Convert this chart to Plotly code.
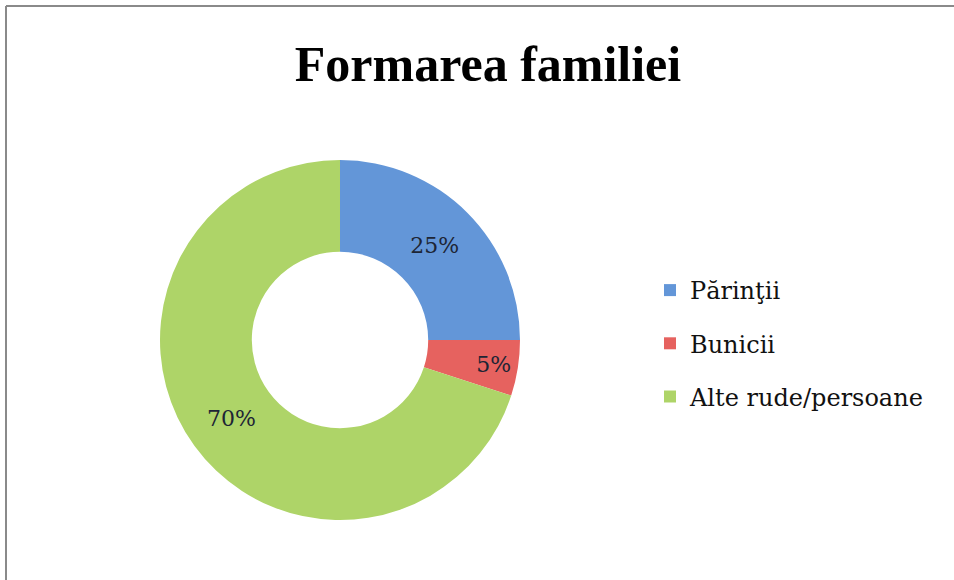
import plotly.graph_objects as go

# Date
categorii = ["Părinţii", "Bunicii", "Alte rude/persoane"]
procente = [25, 5, 70]
culori = ["#6396D8", "#E6625F", "#AED468"]

W, H = 954, 580
SERIF = "DejaVu Serif, Liberation Serif, serif"

fig = go.Figure(
    go.Pie(
        labels=categorii,
        values=procente,
        hole=0.49,
        sort=False,
        direction="clockwise",
        rotation=0,
        marker=dict(colors=culori, line=dict(width=0)),
        texttemplate="%{value}%",
        textposition="inside",
        insidetextorientation="horizontal",
        textfont=dict(family=SERIF, size=22, color="#1d2535"),
        domain=dict(x=[160 / W, 520 / W], y=[1 - 520 / H, 1 - 160 / H]),
        showlegend=False,
    )
)

# legenda separata, ca sa avem spatiu intre intrari
for nume, culoare in zip(categorii, culori):
    fig.add_trace(
        go.Scatter(
            x=[None],
            y=[None],
            mode="markers",
            name=nume,
            legendgroup=nume,
            marker=dict(symbol="square", size=9, color=culoare),
            hoverinfo="skip",
        )
    )

fig.update_layout(
    width=W,
    height=H,
    paper_bgcolor="white",
    plot_bgcolor="white",
    margin=dict(l=0, r=0, t=0, b=0),
    xaxis=dict(visible=False),
    yaxis=dict(visible=False),
    title=dict(
        text="<b>Formarea familiei</b>",
        x=488 / W,
        xanchor="center",
        y=1 - 63 / H,
        yanchor="middle",
        font=dict(family="Liberation Serif, serif", size=50, color="#000000"),
    ),
    legend=dict(
        x=650 / W,
        y=1 - 268 / H,
        xanchor="left",
        yanchor="top",
        font=dict(family=SERIF, size=24, color="#111111"),
        itemsizing="constant",
        tracegroupgap=19,
        itemwidth=30,
    ),
    shapes=[
        dict(type="line", xref="paper", yref="paper", x0=6 / W, x1=1, y0=1 - 6 / H, y1=1 - 6 / H,
             line=dict(color="#8a8a8a", width=2)),
        dict(type="line", xref="paper", yref="paper", x0=6 / W, x1=6 / W, y0=0, y1=1 - 6 / H,
             line=dict(color="#8a8a8a", width=2)),
    ],
)

fig.write_html(
    "out.html",
    config={"displayModeBar": False},
    post_script="document.body.style.margin='0';",
)
